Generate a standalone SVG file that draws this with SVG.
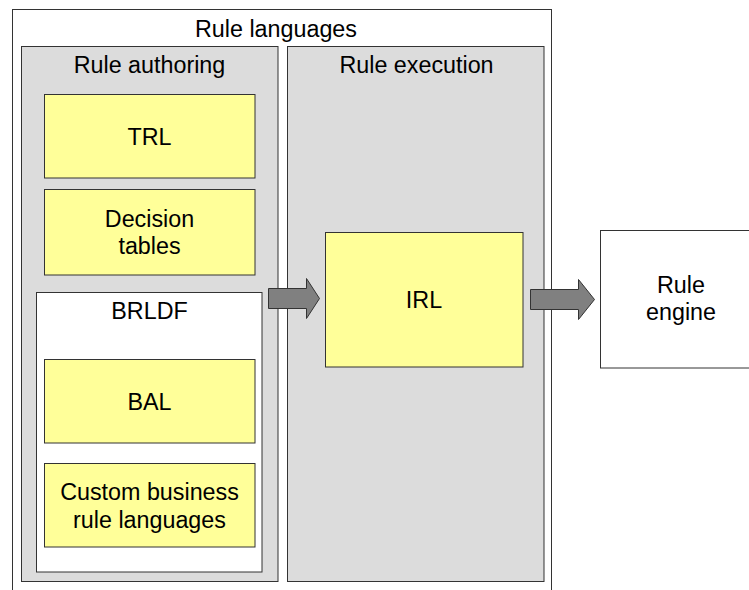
<svg xmlns="http://www.w3.org/2000/svg" width="749" height="590" viewBox="0 0 749 590">
<style>
.box{stroke:#333;stroke-width:1}
.outer{fill:#fff}
.grp{fill:#dcdcdc}
.yel{fill:#ffff99}
.wht{fill:#fff}
.arr{fill:#808080;stroke:#333;stroke-width:1}
text{font-family:"Liberation Sans",Arial,sans-serif;font-size:23.3px;fill:#000;text-anchor:middle}
</style>
<rect width="749" height="590" fill="#fff"/>
<g id="rule-languages">
<rect class="box outer" x="12.5" y="9.5" width="539" height="600"/>
<text x="276" y="36.5">Rule languages</text>
</g>
<g id="rule-authoring">
<rect class="box grp" x="21.5" y="46.5" width="256.5" height="535"/>
<text x="149.5" y="72.5">Rule authoring</text>
</g>
<g id="rule-execution">
<rect class="box grp" x="287.5" y="46.5" width="256.5" height="535"/>
<text x="416.5" y="72.5">Rule execution</text>
</g>
<g id="trl">
<rect class="box yel" x="44.5" y="94.5" width="210.5" height="83.5"/>
<text x="149.5" y="145">TRL</text>
</g>
<g id="decision-tables">
<rect class="box yel" x="44.5" y="189.5" width="210.5" height="85.5"/>
<text x="149.5" y="227">Decision</text>
<text x="149.5" y="254">tables</text>
</g>
<g id="brldf">
<rect class="box wht" x="36.5" y="292.5" width="225.5" height="279.5"/>
<text x="149.5" y="319">BRLDF</text>
</g>
<g id="bal">
<rect class="box yel" x="44.5" y="359.5" width="210.5" height="83.5"/>
<text x="149.5" y="410">BAL</text>
</g>
<g id="custom">
<rect class="box yel" x="44.5" y="463.5" width="210.5" height="83.5"/>
<text x="149.5" y="500">Custom business</text>
<text x="149.5" y="528">rule languages</text>
</g>
<g id="irl">
<rect class="box yel" x="325.5" y="232.5" width="197.5" height="134.5"/>
<text x="424" y="308">IRL</text>
</g>
<g id="rule-engine">
<rect class="box wht" x="600.5" y="230.5" width="160" height="137.5"/>
<text x="681" y="293">Rule</text>
<text x="681" y="320">engine</text>
</g>
<g id="connectors">
<polygon class="arr" points="268.5,288.5 306.5,288.5 306.5,278.5 319.5,298.5 306.5,318.5 306.5,308.5 268.5,308.5"/>
<polygon class="arr" points="530.5,289.5 578.5,289.5 578.5,279.5 594.5,299.5 578.5,319.5 578.5,309.5 530.5,309.5"/>
</g>
</svg>
